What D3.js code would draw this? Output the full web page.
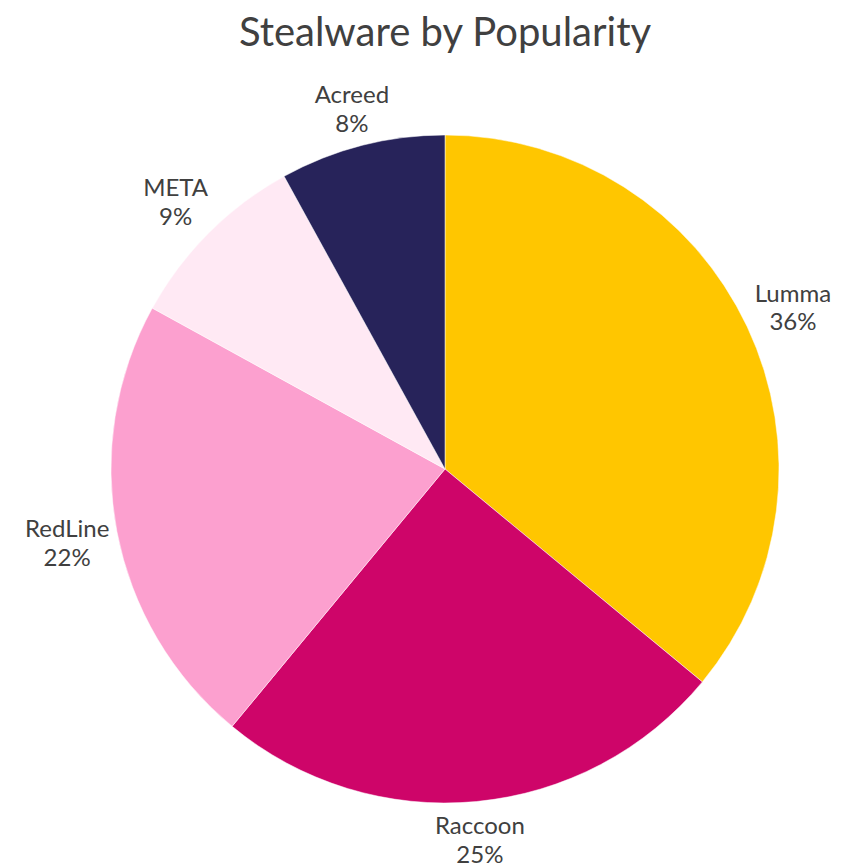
<!DOCTYPE html>
<html>
<head>
<meta charset="utf-8">
<script src="https://cdn.jsdelivr.net/npm/d3@7"></script>
<style>
  body { margin: 0; background: #fff; }
  text { font-family: Lato, "Noto Sans", sans-serif; fill: #404040; }
</style>
</head>
<body>
<svg width="847" height="865"></svg>
<script>
// Data
var names = ['Lumma', 'Raccoon', 'RedLine', 'META', 'Acreed'];
var shares = [36, 25, 22, 9, 8];
var colors = ['#FFC600', '#CE0569', '#FCA0CF', '#FFE9F4', '#27235A'];

var svg = d3.select('svg');
var cx = 445, cy = 469, radius = 334;

var data = names.map(function(n, i) { return { name: n, value: shares[i], color: colors[i] }; });

svg.append('text')
    .attr('x', 445)
    .attr('y', 46)
    .attr('text-anchor', 'middle')
    .style('font-size', '40px')
    .text('Stealware by Popularity');

var pie = d3.pie().sort(null).value(function(d) { return d.value; });
var arc = d3.arc().innerRadius(0).outerRadius(radius);

var g = svg.append('g').attr('transform', 'translate(' + [cx, cy] + ')');

var arcs = pie(data);

g.selectAll('path')
    .data(arcs)
    .enter().append('path')
    .attr('d', arc)
    .attr('fill', function(d) { return d.data.color; })
    .attr('stroke', '#fff')
    .attr('stroke-width', 0.5);

// labels outside the edge, box pushed out along the mid angle
var labelH = 56, gap = 4;
var labels = g.selectAll('.label')
    .data(arcs)
    .enter().append('text')
    .attr('class', 'label')
    .attr('text-anchor', 'middle')
    .style('font-size', '24px');

labels.append('tspan')
    .attr('x', 0)
    .attr('dy', '-0.15em')
    .text(function(d) { return d.data.name; });
labels.append('tspan')
    .attr('x', 0)
    .attr('dy', '1.2em')
    .text(function(d) { return d.data.value + '%'; });

labels.attr('transform', function(d) {
    var w = this.getBBox().width;
    var a = (d.startAngle + d.endAngle) / 2;
    var s = Math.sin(a), c = -Math.cos(a);
    var dist = radius + gap + Math.abs(s) * w / 2 + Math.abs(c) * labelH / 2;
    return 'translate(' + [dist * s, dist * c] + ')';
});
</script>
</body>
</html>
